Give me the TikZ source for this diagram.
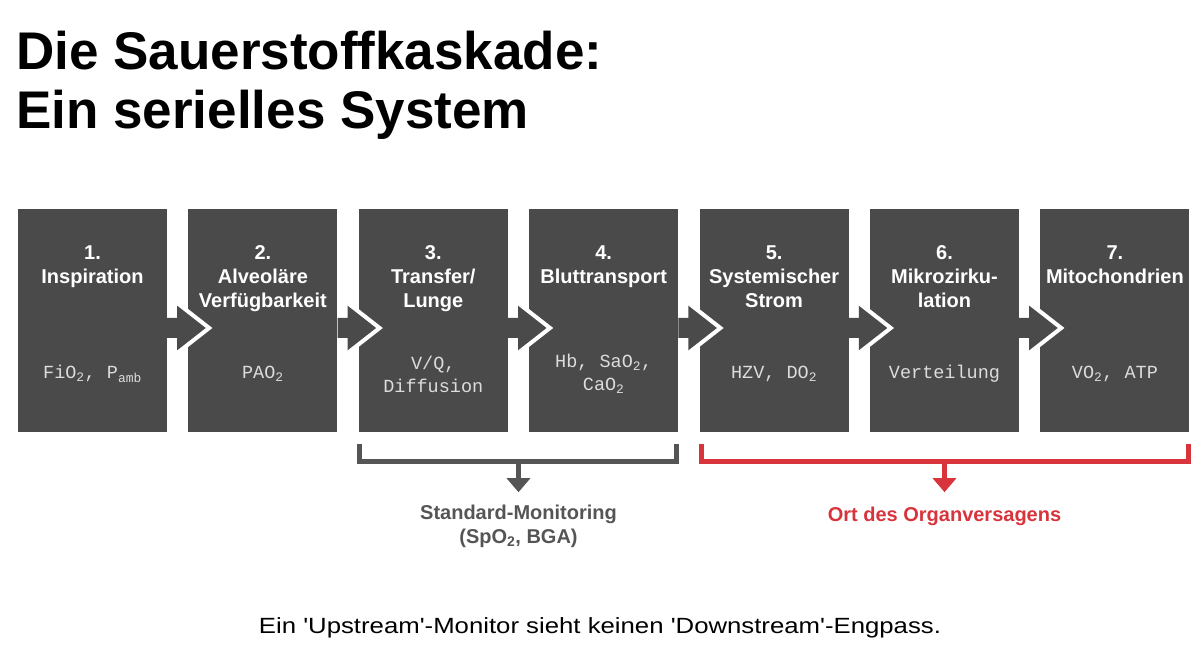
\documentclass[tikz,border=0pt]{standalone}
\usepackage{fontspec}
\setmainfont{Liberation Sans}
\setmonofont{Liberation Mono}
\usetikzlibrary{arrows.meta,positioning,calc}

\definecolor{boxgray}{HTML}{4A4A4A}
\definecolor{valgray}{HTML}{DCDCDC}
\definecolor{monigray}{HTML}{555555}
\definecolor{failred}{HTML}{D8343C}

\tikzset{
  stage/.style={fill=boxgray, minimum width=149pt, minimum height=223pt, inner sep=0pt},
  stagehead/.style={text=white, inner sep=0pt, align=center, anchor=north,
    font=\bfseries\fontsize{20}{24}\selectfont},
  stageval/.style={text=valgray, inner sep=0pt, align=center,
    font=\ttfamily\fontsize{18.5}{23}\selectfont},
  chev/.style={fill=boxgray},
  chevedge/.style={draw=white, line width=4pt, line join=miter},
  bracket/.style={line width=5pt},
  bracketlbl/.style={inner sep=0pt, align=center, anchor=north,
    font=\bfseries\fontsize{20}{24}\selectfont},
}

\begin{document}
\begin{tikzpicture}[x=1pt, y=1pt]
  \useasboundingbox (0,0) rectangle (1200,650);

  % title
  \node[anchor=north west, inner sep=0pt, align=left,
        font=\bfseries\fontsize{53}{59}\selectfont] (title) at (16,619)
    {Die Sauerstoffkaskade:\\Ein serielles System};

  % the seven stages
  \node[stage] (b1) at (92.5,329.5) {};
  \node[stage, right=21pt of b1] (b2) {};
  \node[stage, right=21pt of b2] (b3) {};
  \node[stage, right=21pt of b3] (b4) {};
  \node[stage, right=21pt of b4] (b5) {};
  \node[stage, right=21pt of b5] (b6) {};
  \node[stage, right=21pt of b6] (b7) {};

  % chevrons between the stages
  \foreach \i in {1,...,6} {
    \fill[chev] ($(b\i.east)+(0,2.5)$) -- ++(10,0) -- ++(0,15) -- ++(32,-25)
      -- ++(-32,-25) -- ++(0,15) -- ++(-10,0) -- cycle;
    \draw[chevedge] ($(b\i.east)+(10,17.5)$) -- ++(32,-25) -- ++(-32,-25);
  }

  \node[stagehead] (h1) at ([yshift=-37pt]b1.north) {1.\\Inspiration};
  \node[stagehead] (h2) at ([yshift=-37pt]b2.north) {2.\\Alveoläre\\Verfügbarkeit};
  \node[stagehead] (h3) at ([yshift=-37pt]b3.north) {3.\\Transfer/\\Lunge};
  \node[stagehead] (h4) at ([yshift=-37pt]b4.north) {4.\\Bluttransport};
  \node[stagehead] (h5) at ([yshift=-37pt]b5.north) {5.\\Systemischer\\Strom};
  \node[stagehead] (h6) at ([yshift=-37pt]b6.north) {6.\\Mikrozirku-\\lation};
  \node[stagehead] (h7) at ([yshift=-37pt]b7.north) {7.\\Mitochondrien};

  \node[stageval] (v1) at ([yshift=-53.5pt]b1.center) {FiO\textsubscript{2}, P\textsubscript{amb}};
  \node[stageval] (v2) at ([yshift=-53.5pt]b2.center) {PAO\textsubscript{2}};
  \node[stageval] (v3) at ([yshift=-53.5pt]b3.center) {V/Q,\\Diffusion};
  \node[stageval] (v4) at ([yshift=-53.5pt]b4.center) {Hb, SaO\textsubscript{2},\\CaO\textsubscript{2}};
  \node[stageval] (v5) at ([yshift=-53.5pt]b5.center) {HZV, DO\textsubscript{2}};
  \node[stageval] (v6) at ([yshift=-53.5pt]b6.center) {Verteilung};
  \node[stageval] (v7) at ([yshift=-53.5pt]b7.center) {VO\textsubscript{2}, ATP};

  % brackets below
  \draw[bracket, monigray] ([xshift=1pt,yshift=-12pt]b3.south west) -- ++(0,-17)
    -| ([xshift=-2pt,yshift=-12pt]b4.south east);
  \coordinate (monmid) at ($(b3.south west)!0.5!(b4.south east)+(0,-29)$);
  \node[bracketlbl, text=monigray, below=44pt of monmid] (moni)
    {Standard-Monitoring\\(SpO\textsubscript{2}, BGA)};
  \draw[bracket, monigray, -{Triangle[width=23pt,length=14pt]}]
    (monmid) -- ([yshift=13pt]moni.north);

  \draw[bracket, failred] ([xshift=2pt,yshift=-12pt]b5.south west) -- ++(0,-17)
    -| ([xshift=-1pt,yshift=-12pt]b7.south east);
  \coordinate (failmid) at ($(b5.south west)!0.5!(b7.south east)+(0,-29)$);
  \node[bracketlbl, text=failred, below=46pt of failmid] (fail)
    {Ort des Organversagens};
  \draw[bracket, failred, -{Triangle[width=23pt,length=14pt]}]
    (failmid) -- ([yshift=15pt]fail.north);

  % footer
  \node[anchor=base, inner sep=0pt, xscale=1.17, transform shape,
        font=\fontsize{22}{26}\selectfont] (foot) at (600,16)
    {Ein \textquotesingle Upstream\textquotesingle-Monitor sieht keinen \textquotesingle Downstream\textquotesingle-Engpass.};
\end{tikzpicture}
\end{document}
